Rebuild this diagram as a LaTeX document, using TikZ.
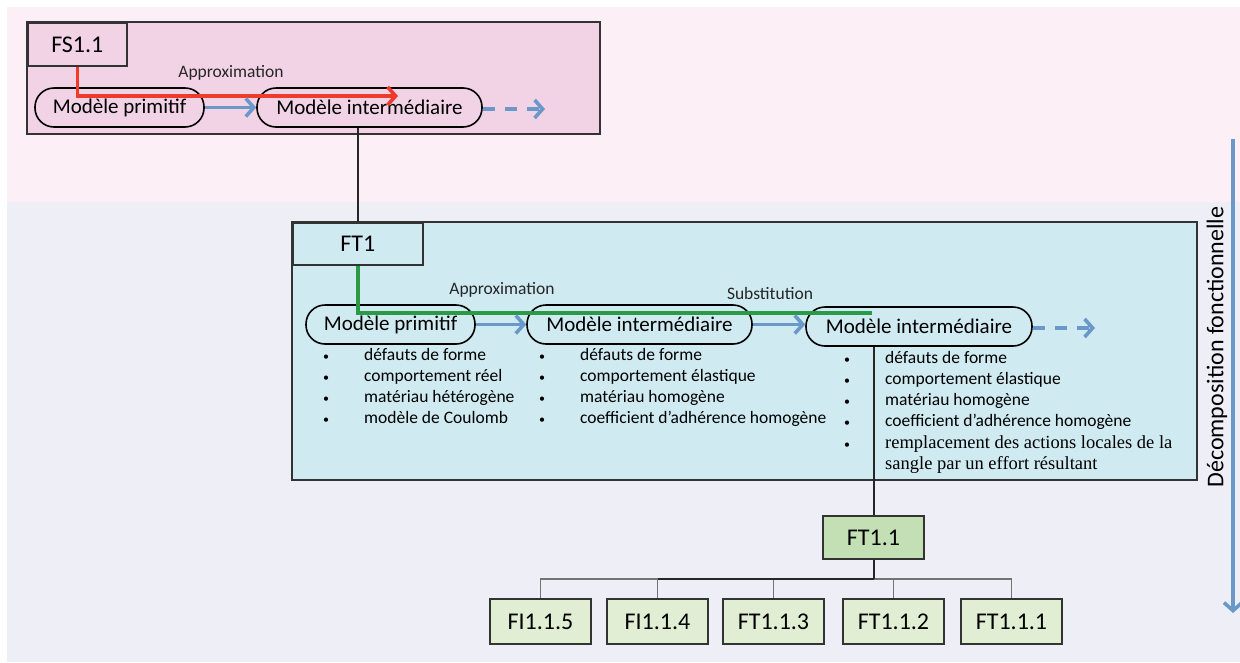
\documentclass[tikz,border=0pt]{standalone}
\usepackage{fontspec}
\setmainfont{Carlito}
\newfontfamily\serifF{Liberation Serif}
\usetikzlibrary{arrows.meta}
\definecolor{pinkbg}{HTML}{FCEFF5}
\definecolor{lavbg}{HTML}{EEEEF7}
\definecolor{pinkbox}{HTML}{F2D3E6}
\definecolor{cyanbox}{HTML}{CFEBF1}
\definecolor{greenA}{HTML}{C2E0B4}
\definecolor{greenB}{HTML}{E1EED3}
\definecolor{arrowblue}{HTML}{6A98C9}
\definecolor{redline}{HTML}{EE3B2C}
\definecolor{greenline}{HTML}{2A9A47}
\newcommand{\bul}{{\fontsize{12}{12}\selectfont\textbullet}}
\tikzset{
  bigbox/.style={draw=black!80, line width=1.7pt, inner sep=0pt},
  lblbox/.style={draw=black!80, line width=1.7pt, inner sep=0pt, font=\fontsize{24}{28}\selectfont},
  mbox/.style={draw=black, line width=1.6pt, rounded corners=19pt, inner sep=0pt, minimum height=39pt, font=\fontsize{21}{25}\selectfont},
  small/.style={font=\fontsize{17.5}{21}\selectfont, text=black!85, inner sep=0pt},
  barrow/.style={draw=arrowblue, line width=3.6pt, -{Straight Barb[length=8pt, width=18pt]}},
  dbarrow/.style={barrow, dash pattern=on 12pt off 10pt},
  conn/.style={draw=black!85, line width=2pt},
  treeline/.style={draw=black!55, line width=1.4pt},
  childbox/.style={lblbox, fill=greenB, minimum width=101pt, minimum height=45pt},
  bullist/.style={anchor=base west, inner sep=0pt, align=left, font=\fontsize{17.5}{21.3}\selectfont}
}
\begin{document}
\begin{tikzpicture}[x=1pt,y=-1pt]
\useasboundingbox (0,0) rectangle (1240,662);
% backgrounds
\fill[pinkbg] (7,7) rectangle (1240,202);
\fill[lavbg] (7,202) rectangle (1240,662);

% ---------- top section ----------
\node[bigbox, fill=pinkbox, minimum width=573pt, minimum height=112pt] (topbox) at (313.5,78) {};
\node[lblbox, fill=pinkbox, anchor=north west, minimum width=99pt, minimum height=43pt] (fs) at (27,22) {FS1.1};
\node[mbox, minimum width=169pt] (mp1) at (119.5,107.5) {Modèle primitif};
\node[mbox, minimum width=225pt] (mi1) at (369.5,107.5) {Modèle intermédiaire};
\node[small] (ap1) at (231,73) {Approximation};
\coordinate (r1) at (398,96);
\coordinate (d1) at (545,109);
\draw[redline, line width=3.6pt, -{Straight Barb[length=8pt, width=18pt]}] (fs.south) |- (r1);
\draw[barrow] (mp1.east) -- (mi1.west);
\draw[dbarrow] (mi1.east |- d1) -- (d1);

% ---------- FT1 section ----------
\node[bigbox, fill=cyanbox, minimum width=905pt, minimum height=258pt] (cyan) at (744.5,351) {};
\node[lblbox, fill=cyanbox, anchor=north west, minimum width=130pt, minimum height=42pt] (ft1) at (292,222) {FT1};
\draw[conn] (mi1.south -| ft1.north) -- (ft1.north);

\node[mbox, minimum width=169pt] (mp2) at (390.5,324.5) {Modèle primitif};
\node[mbox, minimum width=225pt] (mi2) at (639.5,324.5) {Modèle intermédiaire};
\node[mbox, minimum width=226pt] (mi3) at (919,326.5) {Modèle intermédiaire};
\node[small] (ap2) at (502,290) {Approximation};
\node[small] (sub) at (770,293) {Substitution};
\coordinate (g1) at (872,313);
\draw[greenline, line width=3.6pt] (ft1.south) |- (g1);
\draw[barrow] (mp2.east) -- (mi2.west);
\draw[barrow] (mi2.east) -- (mi2.east -| mi3.west);
\coordinate (d2) at (1095,328);
\draw[dbarrow] (mi3.east |- d2) -- (d2);

% bullet lists
\node[bullist] (l1) at (323,360) {\begin{tabular}[t]{@{}p{41pt}@{}l@{}}
\bul & défauts de forme\\
\bul & comportement réel\\
\bul & matériau hétérogène\\
\bul & modèle de Coulomb
\end{tabular}};
\node[bullist] (l2) at (539,360) {\begin{tabular}[t]{@{}p{41pt}@{}l@{}}
\bul & défauts de forme\\
\bul & comportement élastique\\
\bul & matériau homogène\\
\bul & coefficient d’adhérence homogène
\end{tabular}};
\node[bullist] (l3) at (844,363) {\begin{tabular}[t]{@{}p{41pt}@{}l@{}}
\bul & défauts de forme\\
\bul & comportement élastique\\
\bul & matériau homogène\\
\bul & coefficient d’adhérence homogène\\
\bul & {\serifF\fontsize{18.5}{21.3}\selectfont remplacement des actions locales de la}\\
  & {\serifF\fontsize{18.5}{21.3}\selectfont sangle par un effort résultant}
\end{tabular}};

% ---------- FT1.1 tree ----------
\node[lblbox, fill=greenA, minimum width=101pt, minimum height=43pt] (ft11) at (873.5,537.5) {FT1.1};
\draw[conn] (mi3.south -| ft11.north) -- (ft11.north);
\node[childbox] (c5) at (540.5,621.5) {FI1.1.5};
\node[childbox] (c4) at (657.5,621.5) {FI1.1.4};
\node[childbox] (c3) at (773.5,621.5) {FT1.1.3};
\node[childbox] (c2) at (893.5,621.5) {FT1.1.2};
\node[childbox] (c1) at (1011.5,621.5) {FT1.1.1};
\coordinate (bus) at (873.5,579);
\draw[treeline] (c5.north) |- (bus);
\draw[treeline] (c4.north) |- (bus);
\draw[treeline] (c3.north) |- (bus);
\draw[treeline] (c2.north) |- (bus);
\draw[treeline] (c1.north) |- (bus);
\draw[conn] (c4.north |- bus) -- (bus);
\draw[conn] (ft11.south) -- (bus);

% ---------- right axis ----------
\coordinate (ax0) at (1233,139);
\coordinate (ax1) at (1233,613);
\draw[barrow] (ax0) -- (ax1);
\node[rotate=90, font=\fontsize{24}{28}\selectfont, inner sep=0pt] (dec) at (1217,347) {Décomposition fonctionnelle};
\end{tikzpicture}
\end{document}
